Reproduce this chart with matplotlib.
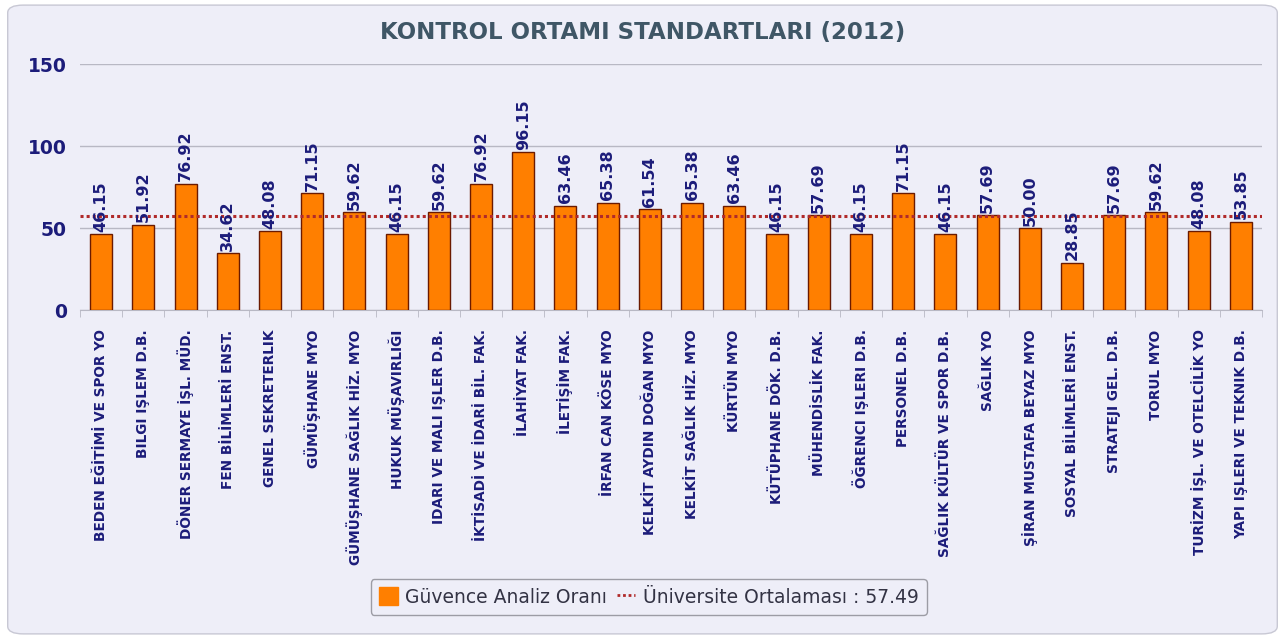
import matplotlib.pyplot as plt
from matplotlib.patches import FancyBboxPatch
from matplotlib.lines import Line2D
from matplotlib.patches import Patch
import numpy as np

birimler = [
    "BEDEN EĞİTİMİ VE SPOR YO", "BILGI IŞLEM D.B.", "DÖNER SERMAYE İŞL. MÜD.",
    "FEN BİLİMLERİ ENST.", "GENEL SEKRETERLIK", "GÜMÜŞHANE MYO",
    "GÜMÜŞHANE SAĞLIK HİZ. MYO", "HUKUK MÜŞAVIRLIĞI", "IDARI VE MALI IŞLER D.B.",
    "İKTİSADİ VE İDARİ BİL. FAK.", "İLAHİYAT FAK.", "İLETİŞİM FAK.",
    "İRFAN CAN KÖSE MYO", "KELKİT AYDIN DOĞAN MYO", "KELKİT SAĞLIK HİZ. MYO",
    "KÜRTÜN MYO", "KÜTÜPHANE DÖK. D.B.", "MÜHENDİSLİK FAK.",
    "ÖĞRENCI IŞLERI D.B.", "PERSONEL D.B.", "SAĞLIK KÜLTÜR VE SPOR D.B.",
    "SAĞLIK YO", "ŞİRAN MUSTAFA BEYAZ MYO", "SOSYAL BİLİMLERİ ENST.",
    "STRATEJI GEL. D.B.", "TORUL MYO", "TURİZM İŞL. VE OTELCİLİK YO",
    "YAPI IŞLERI VE TEKNIK D.B.",
]
oranlar = [46.15, 51.92, 76.92, 34.62, 48.08, 71.15, 59.62, 46.15, 59.62, 76.92,
           96.15, 63.46, 65.38, 61.54, 65.38, 63.46, 46.15, 57.69, 46.15, 71.15,
           46.15, 57.69, 50.00, 28.85, 57.69, 59.62, 48.08, 53.85]
ortalama = 57.49
y_ticks = [0, 50, 100, 150]

navy = "#1c1c7a"
bg = "#eeeef8"

fig = plt.figure(figsize=(12.85, 6.39), dpi=100)
fig.patch.set_facecolor("white")
# rounded background panel, kept behind the axes
panel = FancyBboxPatch((0.006, 0.008), 0.988, 0.984, boxstyle="round,pad=0,rounding_size=0.012",
                       transform=fig.transFigure, facecolor=bg, edgecolor="#c8c8d4", lw=1,
                       zorder=-10)
fig.patches.append(panel)

ax = fig.add_axes([80 / 1285, 1 - 310 / 639, (1262 - 80) / 1285, (310 - 64) / 639])
ax.set_facecolor("none")

x = np.arange(len(birimler))
ax.bar(x, oranlar, width=0.52, color="#ff7f00", edgecolor="#6b1a00", linewidth=1.0, zorder=3)
ax.axhline(ortalama, color="#b02a2a", linestyle=(0, (1, 1)), linewidth=2.2, zorder=4)

for xi, v in zip(x, oranlar):
    ax.text(xi, v + 1.5, f"{v:.2f}", rotation=90, ha="center", va="bottom",
            fontsize=11.5, fontweight="bold", color=navy, zorder=5)

ax.set_xlim(-0.5, len(birimler) - 0.5)
ax.set_ylim(0, 150)
ax.set_yticks(y_ticks)
ax.set_yticklabels([str(t) for t in y_ticks], fontsize=13.5, fontweight="bold", color=navy)
ax.yaxis.grid(True, color="#b8b8c4", linewidth=1, zorder=0)
ax.tick_params(axis="y", length=0, pad=9.5)

ax.set_xticks(x)
ax.set_xticklabels(birimler, rotation=90, fontsize=9.8, fontweight="bold", color=navy,
                   va="top", ha="center")
ax.set_xticks(np.arange(len(birimler) + 1) - 0.5, minor=True)
ax.tick_params(axis="x", which="major", length=0, pad=14)
ax.tick_params(axis="x", which="minor", length=5, color="#b8b8c4")

for s in ["top", "right", "left"]:
    ax.spines[s].set_visible(False)
ax.spines["bottom"].set_color("#b8b8c4")

fig.text(0.5, 1 - 32 / 639, "KONTROL ORTAMI STANDARTLARI (2012)", ha="center", va="center",
         fontsize=16.5, fontweight="bold", color="#3f5666")

handles = [Patch(facecolor="#ff7f00", edgecolor="#ff7f00"),
           Line2D([0], [0], color="#b02a2a", linestyle=(0, (1, 1)), linewidth=2)]
leg = fig.legend(handles, ["Güvence Analiz Oranı", "Üniversite Ortalaması : 57.49"],
                 loc="center", bbox_to_anchor=(0.505, 1 - 597 / 639), ncol=2,
                 fontsize=13.5, frameon=True, handlelength=1.0, handleheight=1.1,
                 handletextpad=0.4, columnspacing=0.5, borderpad=0.45, fancybox=True)
leg.get_frame().set_facecolor(bg)
leg.get_frame().set_edgecolor("#888890")
for t in leg.get_texts():
    t.set_color("#333344")

fig.savefig("out.png", dpi=100, facecolor=fig.get_facecolor())
